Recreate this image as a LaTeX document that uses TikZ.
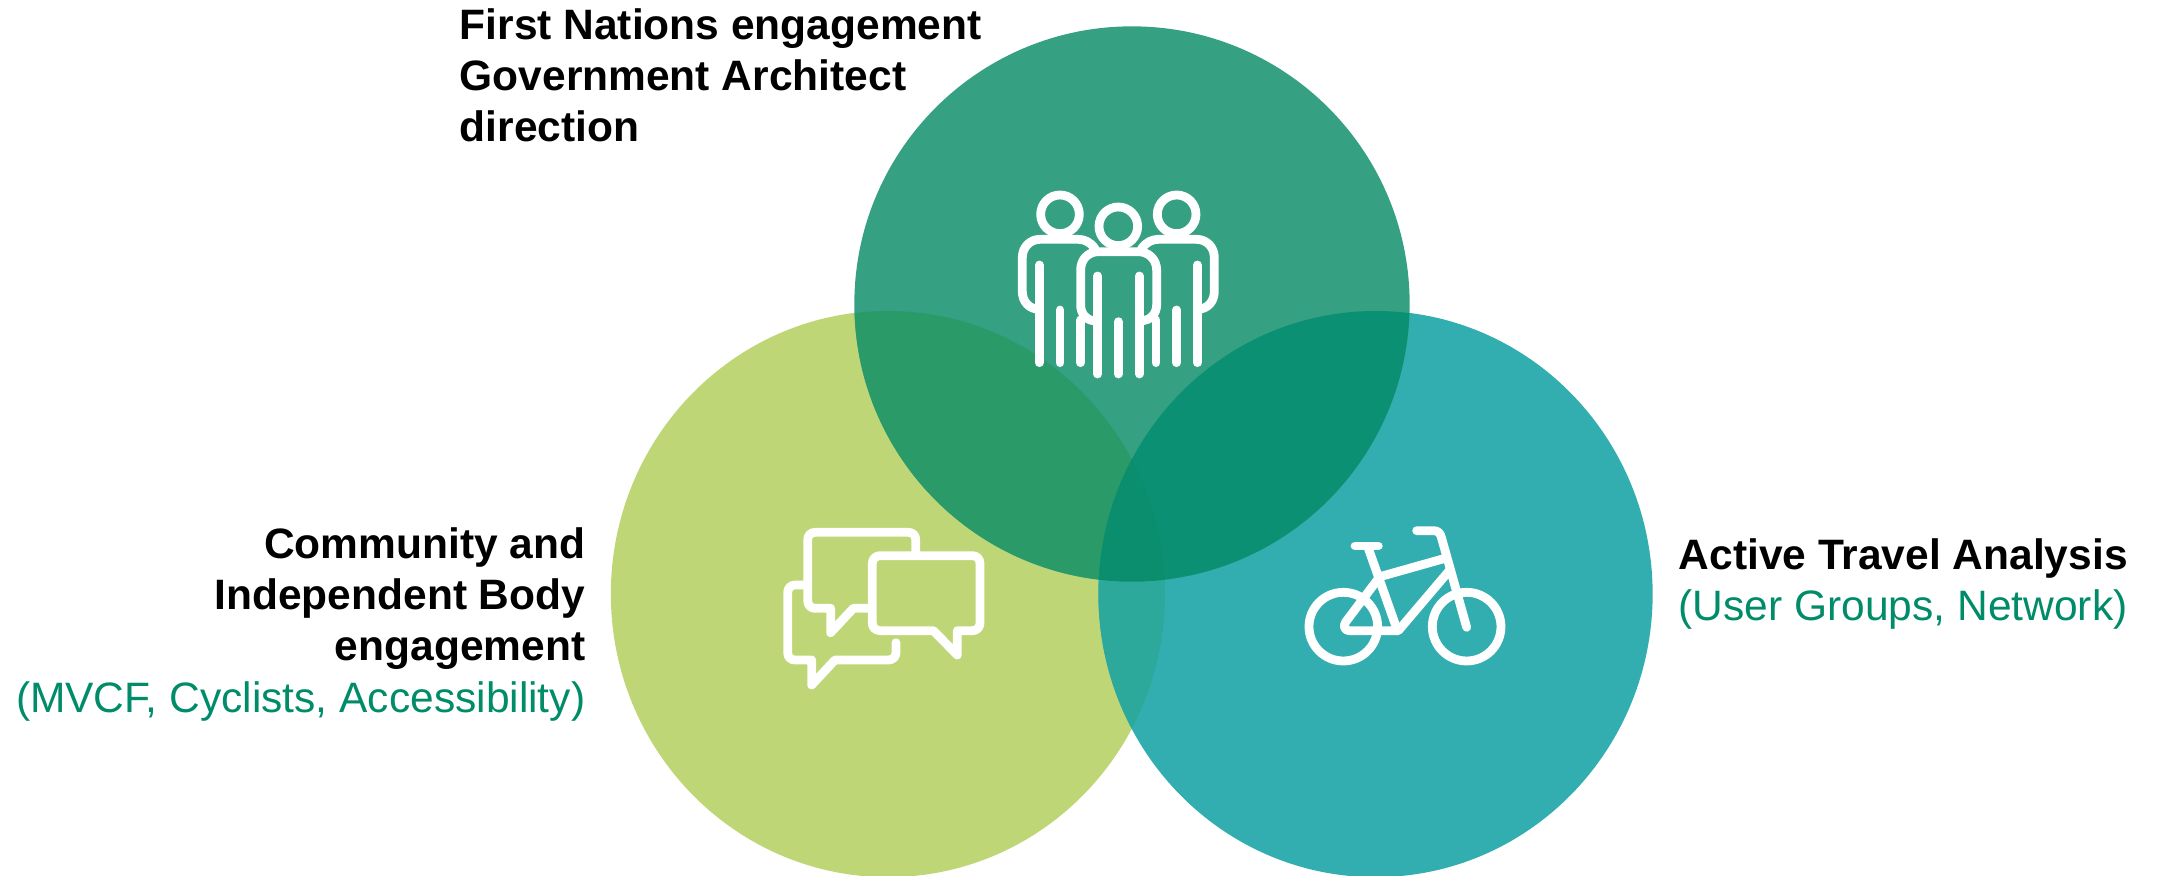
\documentclass[tikz,border=0pt]{standalone}
\usepackage{fontspec}
\setmainfont{Liberation Sans}
\usepackage{xcolor}
\usepackage{tikz}
\usetikzlibrary{shapes.geometric}
\definecolor{nationsGreen}{HTML}{36A083}
\definecolor{communityLime}{HTML}{BED676}
\definecolor{travelTeal}{HTML}{33AEB0}
\definecolor{nationsCommunity}{HTML}{2A9A69}
\definecolor{nationsTravel}{HTML}{0C9074}
\definecolor{communityTravel}{HTML}{2DA99C}
\definecolor{allThree}{HTML}{0A8E6D}
\definecolor{noteGreen}{HTML}{008B69}
\tikzset{venn-top/.style={circle,minimum size=5.55cm,inner sep=0pt}}
\tikzset{venn-low/.style={ellipse,minimum width=5.54cm,minimum height=5.66cm,inner sep=0pt}}
\tikzset{icon-line/.style={draw=white,line width=2.5pt,line cap=round,line join=round}}
\tikzset{label-text/.style={inner sep=0pt,font=\fontsize{12.09}{14.55}\selectfont}}

\begin{document}
\begin{tikzpicture}[x=0.01cm,y=-0.01cm]
    \useasboundingbox (0,0) rectangle (2159,876);
    \coordinate (nations-center) at (1132,304);
    \coordinate (community-center) at (888,594);
    \coordinate (travel-center) at (1375.5,594);

    \node [venn-low, fill=communityLime] (community) at (community-center) {};
    \node [venn-low, fill=travelTeal] (travel) at (travel-center) {};
    \node [venn-top, fill=nationsGreen] (nations) at (nations-center) {};

    % overlaps
    \begin{scope}
        \clip (community-center) ellipse (277 and 283);
        \fill [communityTravel] (travel-center) ellipse (277 and 283);
    \end{scope}
    \begin{scope}
        \clip (nations-center) circle (277.5);
        \fill [nationsCommunity] (community-center) ellipse (277 and 283);
        \fill [nationsTravel] (travel-center) ellipse (277 and 283);
        \clip (community-center) ellipse (277 and 283);
        \fill [allThree] (travel-center) ellipse (277 and 283);
    \end{scope}

    % people
    \begin{scope}[shift={(990,170)},scale=0.3333,icon-line]
        \draw (210,133) circle (58);
        \draw (560,133) circle (58);
        \draw (385,169) circle (58);
        \draw (148,418) .. controls (118,418) and (97,395) .. (97,365) -- (97,262)
            .. controls (97,232) and (120,208) .. (150,208) -- (265,208)
            .. controls (285,208) and (302,218) .. (315,235);
        \draw (622,418) .. controls (652,418) and (673,395) .. (673,365) -- (673,262)
            .. controls (673,232) and (650,208) .. (620,208) -- (505,208)
            .. controls (485,208) and (468,218) .. (455,235);
        \draw (310,452) .. controls (288,450) and (272,430) .. (272,405) -- (272,300)
            .. controls (272,268) and (295,245) .. (325,245) -- (445,245)
            .. controls (475,245) and (500,268) .. (500,300) -- (500,405)
            .. controls (500,430) and (482,450) .. (460,452);
        \foreach \x/\ytop in {148/285, 210/420, 272/450, 498/450, 560/420, 622/285}
            \draw (\x,\ytop) -- (\x,578);
        \foreach \x/\ytop in {323/318, 385/455, 448/318}
            \draw (\x,\ytop) -- (\x,612);
    \end{scope}

    % speech bubbles
    \begin{scope}[shift={(770,510)},scale=0.3333,icon-line]
        \draw (437,125) -- (437,88) .. controls (437,75) and (427,67) .. (415,67) -- (135,67)
            .. controls (122,67) and (113,77) .. (113,90) -- (113,272)
            .. controls (113,285) and (122,295) .. (135,295) -- (182,295) -- (182,368)
            -- (250,295) -- (300,295);
        \draw (330,137) -- (608,137) .. controls (620,137) and (630,147) .. (630,160) -- (630,340)
            .. controls (630,352) and (620,362) .. (608,362) -- (562,362) -- (562,435)
            -- (490,362) -- (330,362) .. controls (317,362) and (307,352) .. (307,340) -- (307,160)
            .. controls (307,147) and (317,137) .. (330,137) -- cycle;
        \draw (105,225) -- (75,225) .. controls (62,225) and (53,235) .. (53,248) -- (53,428)
            .. controls (53,441) and (62,450) .. (75,450) -- (125,450) -- (125,525)
            -- (195,450) -- (355,450) .. controls (368,450) and (378,441) .. (378,428) -- (378,398);
    \end{scope}

    % bicycle
    \begin{scope}[shift={(1290,510)},scale=0.3333,icon-line]
        \draw (160,350) circle (103);
        \draw (530,350) circle (103);
        \draw (195,108) -- (265,108);
        \draw (235,115) -- (320,355);
        \draw (270,200) -- (465,145);
        \draw (380,62) -- (430,62) .. controls (445,62) and (452,70) .. (455,85) -- (530,352);
        \draw (478,182) -- (325,362) -- (178,362) .. controls (165,362) and (158,350) .. (167,336) -- (262,210);
    \end{scope}

    \node [label-text, anchor=north west, align=left] (nations-label) at (459,8)
        {\bfseries First Nations engagement\\ \bfseries Government Architect\\ \bfseries direction};
    \node [label-text, anchor=north east, align=right] (community-label) at (586,527)
        {\bfseries Community and\\ \bfseries Independent Body\\ \bfseries engagement\\ \color{noteGreen}(MVCF, Cyclists, Accessibility)};
    \node [label-text, anchor=north west, align=left] (travel-label) at (1678,538)
        {\bfseries Active Travel Analysis\\ \color{noteGreen}(User Groups, Network)};
\end{tikzpicture}
\end{document}
